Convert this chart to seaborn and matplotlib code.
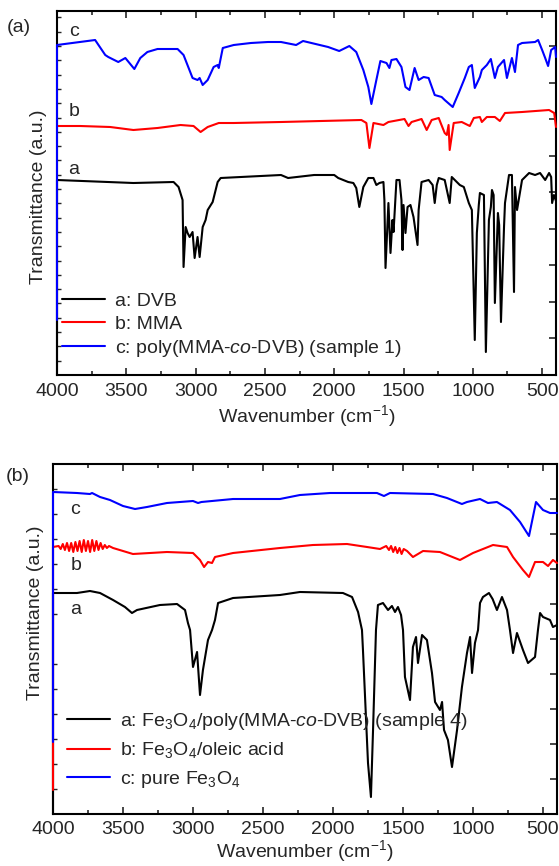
"""
FTIR spectra: (a) DVB / MMA / poly(MMA-co-DVB), (b) Fe3O4 composites
"""

import pandas as pd
import matplotlib
matplotlib.use("Agg")
import matplotlib.pyplot as plt
from matplotlib.lines import Line2D
from matplotlib.ticker import MultipleLocator, NullFormatter
import seaborn as sns

# ---- data: (wavenumber cm-1, transmittance a.u., curves already offset) ----
# panel (a)
dvb = [(4000, 0), (4000, 195), (3449, 192), (3159, 193), (3123, 188), (3094, 175), (3087, 108),
       (3072, 148), (3058, 142), (3043, 138), (3022, 143), (3007, 117), (2986, 138), (2971, 118),
       (2949, 148), (2928, 155), (2913, 165), (2877, 173), (2841, 193), (2819, 197), (2674, 198),
       (2384, 200), (2333, 197), (2145, 200), (2000, 200), (1971, 197), (1899, 193), (1862, 192),
       (1841, 187), (1819, 168), (1790, 188), (1754, 197), (1717, 197), (1696, 190), (1674, 192),
       (1645, 193), (1638, 175), (1630, 107), (1609, 172), (1594, 122), (1580, 155), (1572, 143),
       (1551, 195), (1529, 195), (1515, 175), (1507, 125), (1500, 170), (1486, 142), (1471, 168),
       (1450, 170), (1428, 158), (1399, 130), (1391, 165), (1370, 193), (1319, 195), (1290, 190),
       (1275, 172), (1260, 190), (1246, 197), (1203, 195), (1167, 172), (1152, 198), (1094, 190),
       (1065, 188), (1029, 172), (1007, 165), (986, 35), (971, 142), (957, 170), (949, 182),
       (920, 180), (906, 23), (884, 155), (870, 168), (862, 185), (850, 180), (841, 72), (819, 162),
       (810, 150), (797, 53), (775, 148), (768, 172), (739, 200), (718, 200), (703, 83), (696, 188),
       (681, 165), (645, 195), (594, 202), (551, 200), (515, 202), (478, 195), (450, 202),
       (435, 198), (428, 172), (415, 180), (400, 174)]
mma = [(4000, 249), (3833, 249), (3616, 248), (3449, 245), (3275, 247), (3109, 250), (3015, 249),
       (2964, 243), (2913, 248), (2833, 252), (2725, 252), (2384, 253), (1804, 255), (1768, 252),
       (1746, 227), (1717, 252), (1645, 250), (1609, 253), (1493, 256), (1464, 249), (1442, 253),
       (1370, 256), (1333, 245), (1297, 255), (1246, 257), (1232, 252), (1203, 242), (1188, 240),
       (1175, 250), (1167, 225), (1138, 252), (1080, 253), (1022, 249), (993, 257), (949, 258),
       (935, 253), (899, 258), (841, 258), (805, 254), (768, 262), (645, 263), (450, 265),
       (413, 262), (400, 248)]
copolymer = [(4000, 55), (4000, 330), (3725, 335), (3652, 320), (3630, 318), (3558, 313), (3507, 317),
             (3442, 306), (3399, 317), (3348, 323), (3275, 326), (3130, 326), (3087, 320), (3022, 297),
             (2986, 295), (2971, 297), (2949, 290), (2913, 295), (2870, 308), (2841, 310), (2833, 307),
             (2804, 327), (2725, 330), (2601, 332), (2478, 333), (2384, 333), (2275, 330), (2225, 334),
             (2044, 328), (1964, 324), (1891, 329), (1841, 323), (1790, 305), (1754, 288), (1732, 271),
             (1696, 295), (1667, 314), (1623, 312), (1602, 307), (1587, 315), (1551, 316), (1515, 308),
             (1486, 288), (1457, 285), (1420, 307), (1391, 295), (1355, 298), (1319, 297), (1275, 280),
             (1225, 278), (1203, 275), (1145, 268), (1102, 282), (1058, 297), (1029, 308), (1007, 310),
             (986, 287), (949, 298), (935, 305), (899, 310), (870, 316), (841, 297), (819, 308),
             (775, 315), (754, 297), (718, 317), (696, 303), (674, 330), (645, 332), (551, 333),
             (529, 335), (500, 325), (478, 317), (457, 309), (435, 325), (406, 328), (400, 318)]

# panel (b)
fe3o4_polymer = [(4000, 0), (4000, 221), (3829, 221), (3736, 223), (3664, 221), (3571, 214), (3486, 207),
                 (3436, 201), (3400, 204), (3236, 209), (3114, 210), (3057, 204), (3036, 191),
                 (3021, 184), (3000, 147), (2971, 162), (2950, 119), (2929, 144), (2893, 174),
                 (2864, 184), (2843, 194), (2821, 211), (2714, 216), (2379, 219), (2236, 222),
                 (1929, 221), (1864, 217), (1821, 202), (1793, 184), (1786, 164), (1750, 51),
                 (1729, 17), (1714, 84), (1693, 184), (1679, 209), (1643, 211), (1607, 204),
                 (1579, 208), (1557, 202), (1536, 207), (1514, 199), (1500, 184), (1486, 137),
                 (1450, 114), (1429, 167), (1407, 177), (1393, 151), (1364, 179), (1329, 174),
                 (1293, 141), (1271, 112), (1236, 104), (1221, 112), (1207, 84), (1179, 74), (1150, 47),
                 (1114, 84), (1079, 127), (1043, 161), (1021, 177), (1007, 141), (986, 171), (964, 184),
                 (950, 211), (929, 217), (886, 221), (860, 215), (829, 204), (793, 217), (757, 204),
                 (736, 184), (714, 161), (686, 181), (643, 164), (607, 151), (557, 157), (536, 184),
                 (521, 201), (500, 197), (450, 194), (429, 187), (400, 189)]
fe3o4_oleic = [(4000, 24), (4000, 267), (3960, 268), (3945, 265), (3930, 270), (3915, 264), (3900, 271),
               (3885, 263), (3870, 271), (3855, 262), (3840, 272), (3825, 263), (3810, 273), (3795, 262),
               (3780, 274), (3765, 263), (3750, 273), (3735, 262), (3720, 274), (3705, 263), (3690, 273),
               (3675, 264), (3660, 271), (3645, 265), (3630, 269), (3615, 266), (3600, 268), (3571, 266),
               (3429, 260), (3186, 262), (3000, 261), (2950, 254), (2921, 247), (2893, 252), (2864, 251),
               (2843, 257), (2714, 261), (2379, 266), (2143, 269), (1900, 270), (1757, 267), (1664, 265),
               (1620, 268), (1600, 264), (1585, 268), (1570, 262), (1555, 267), (1540, 261), (1525, 266),
               (1510, 260), (1495, 265), (1471, 263), (1429, 257), (1357, 263), (1236, 262), (1093, 254),
               (1000, 261), (857, 269), (757, 267), (714, 257), (643, 244), (600, 237), (557, 252),
               (500, 252), (464, 248), (429, 254), (400, 251)]
fe3o4_pure = [(4000, 72), (4000, 322), (3829, 321), (3736, 320), (3721, 321), (3664, 317), (3593, 314),
              (3500, 308), (3414, 305), (3329, 307), (3186, 311), (3000, 313), (2964, 311), (2940, 312),
              (2714, 315), (2379, 315), (2236, 319), (2021, 321), (1686, 321), (1636, 318), (1593, 321),
              (1286, 320), (1186, 316), (1079, 310), (1043, 312), (950, 315), (893, 311), (829, 312),
              (736, 304), (664, 292), (600, 278), (550, 312), (500, 304), (450, 301), (400, 301)]

labels_a = ["a: DVB", "b: MMA", r"c: poly(MMA-$\it{co}$-DVB) (sample 1)"]
labels_b = [r"a: Fe$_3$O$_4$/poly(MMA-$\it{co}$-DVB) (sample 4)",
            r"b: Fe$_3$O$_4$/oleic acid",
            r"c: pure Fe$_3$O$_4$"]
colors = ["black", "red", "blue"]


def to_frame(series, names):
    rows = []
    for name, pts in zip(names, series):
        for wn, t in pts:
            rows.append({"wn": wn, "T": t, "sample": name})
    return pd.DataFrame(rows)


sns.set_style("ticks")
plt.rcParams["font.family"] = ["Liberation Sans", "DejaVu Sans"]
plt.rcParams["mathtext.fontset"] = "custom"
plt.rcParams["mathtext.rm"] = "Liberation Sans"
plt.rcParams["mathtext.it"] = "Liberation Sans:italic"
plt.rcParams["mathtext.bf"] = "Liberation Sans:bold"

FS = 14

fig = plt.figure(figsize=(5.59, 8.66), dpi=100)
ax1 = fig.add_axes([57 / 559, 1 - 375 / 866, (556 - 57) / 559, (375 - 11) / 866])
ax2 = fig.add_axes([53 / 559, 1 - 814 / 866, (557 - 53) / 559, (814 - 464) / 866])

panels = [
    (ax1, [dvb, mma, copolymer], labels_a, 364, 36.5, 14.3,
     [(3877, 205, "a"), (3877, 263, "b"), (3877, 343, "c")],
     (0.011, 0.045), 0.25, (-0.021, 0.49), 6, 2),
    (ax2, [fe3o4_polymer, fe3o4_oleic, fe3o4_pure], labels_b, 350, 35, 25,
     [(3836, 204, "a"), (3836, 248, "b"), (3843, 304, "c")],
     (0.028, 0.069), 0.43, (-0.018, 0.574), 5, 0),
]

for ax, series, names, ytop, ymaj, ymin, tags, leg_anchor, lspace, ylab_xy, tpad, lpad in panels:
    df = to_frame(series, names)
    sns.lineplot(data=df, x="wn", y="T", hue="sample", hue_order=names,
                 palette=colors, sort=False, estimator=None, legend=False,
                 linewidth=1.5, ax=ax)
    for ln in ax.lines:
        ln.set_clip_on(False)
        ln.set_zorder(3)

    ax.set_xlim(4000, 400)
    ax.set_ylim(0, ytop)
    ax.xaxis.set_major_locator(MultipleLocator(500))
    ax.xaxis.set_minor_locator(MultipleLocator(250))
    ax.yaxis.set_major_locator(MultipleLocator(ymaj))
    ax.yaxis.set_minor_locator(MultipleLocator(ymin))
    ax.yaxis.set_major_formatter(NullFormatter())
    ax.tick_params(axis="x", which="both", direction="in", top=True, labelsize=FS, pad=tpad)
    ax.tick_params(axis="x", which="major", length=5, width=1.2)
    ax.tick_params(axis="x", which="minor", length=3, width=1.2)
    ax.tick_params(axis="y", which="major", direction="in", left=False, right=True,
                   length=5, width=1.2)
    ax.tick_params(axis="y", which="minor", direction="in", left=True, right=False,
                   length=3, width=1.0)
    for sp in ax.spines.values():
        sp.set_linewidth(1.5)
        sp.set_color("black")

    ax.set_xlabel("Wavenumber (cm$^{-1}$)", fontsize=FS, labelpad=lpad)
    ax.set_ylabel("Transmittance (a.u.)", fontsize=FS)
    ax.yaxis.set_label_coords(*ylab_xy)

    for x, y, s in tags:
        ax.text(x, y, s, fontsize=FS, ha="center", va="center")

    handles = [Line2D([], [], color=c, linewidth=1.5) for c in colors]
    ax.legend(handles, names, loc="lower left", bbox_to_anchor=leg_anchor,
              frameon=False, fontsize=FS, handlelength=2.2, handletextpad=0.5,
              labelspacing=lspace, borderpad=0, borderaxespad=0)

fig.text(7 / 559, 1 - 28 / 866, "(a)", fontsize=FS, va="center", ha="left")
fig.text(6 / 559, 1 - 477 / 866, "(b)", fontsize=FS, va="center", ha="left")

fig.savefig("out.png", dpi=100)
